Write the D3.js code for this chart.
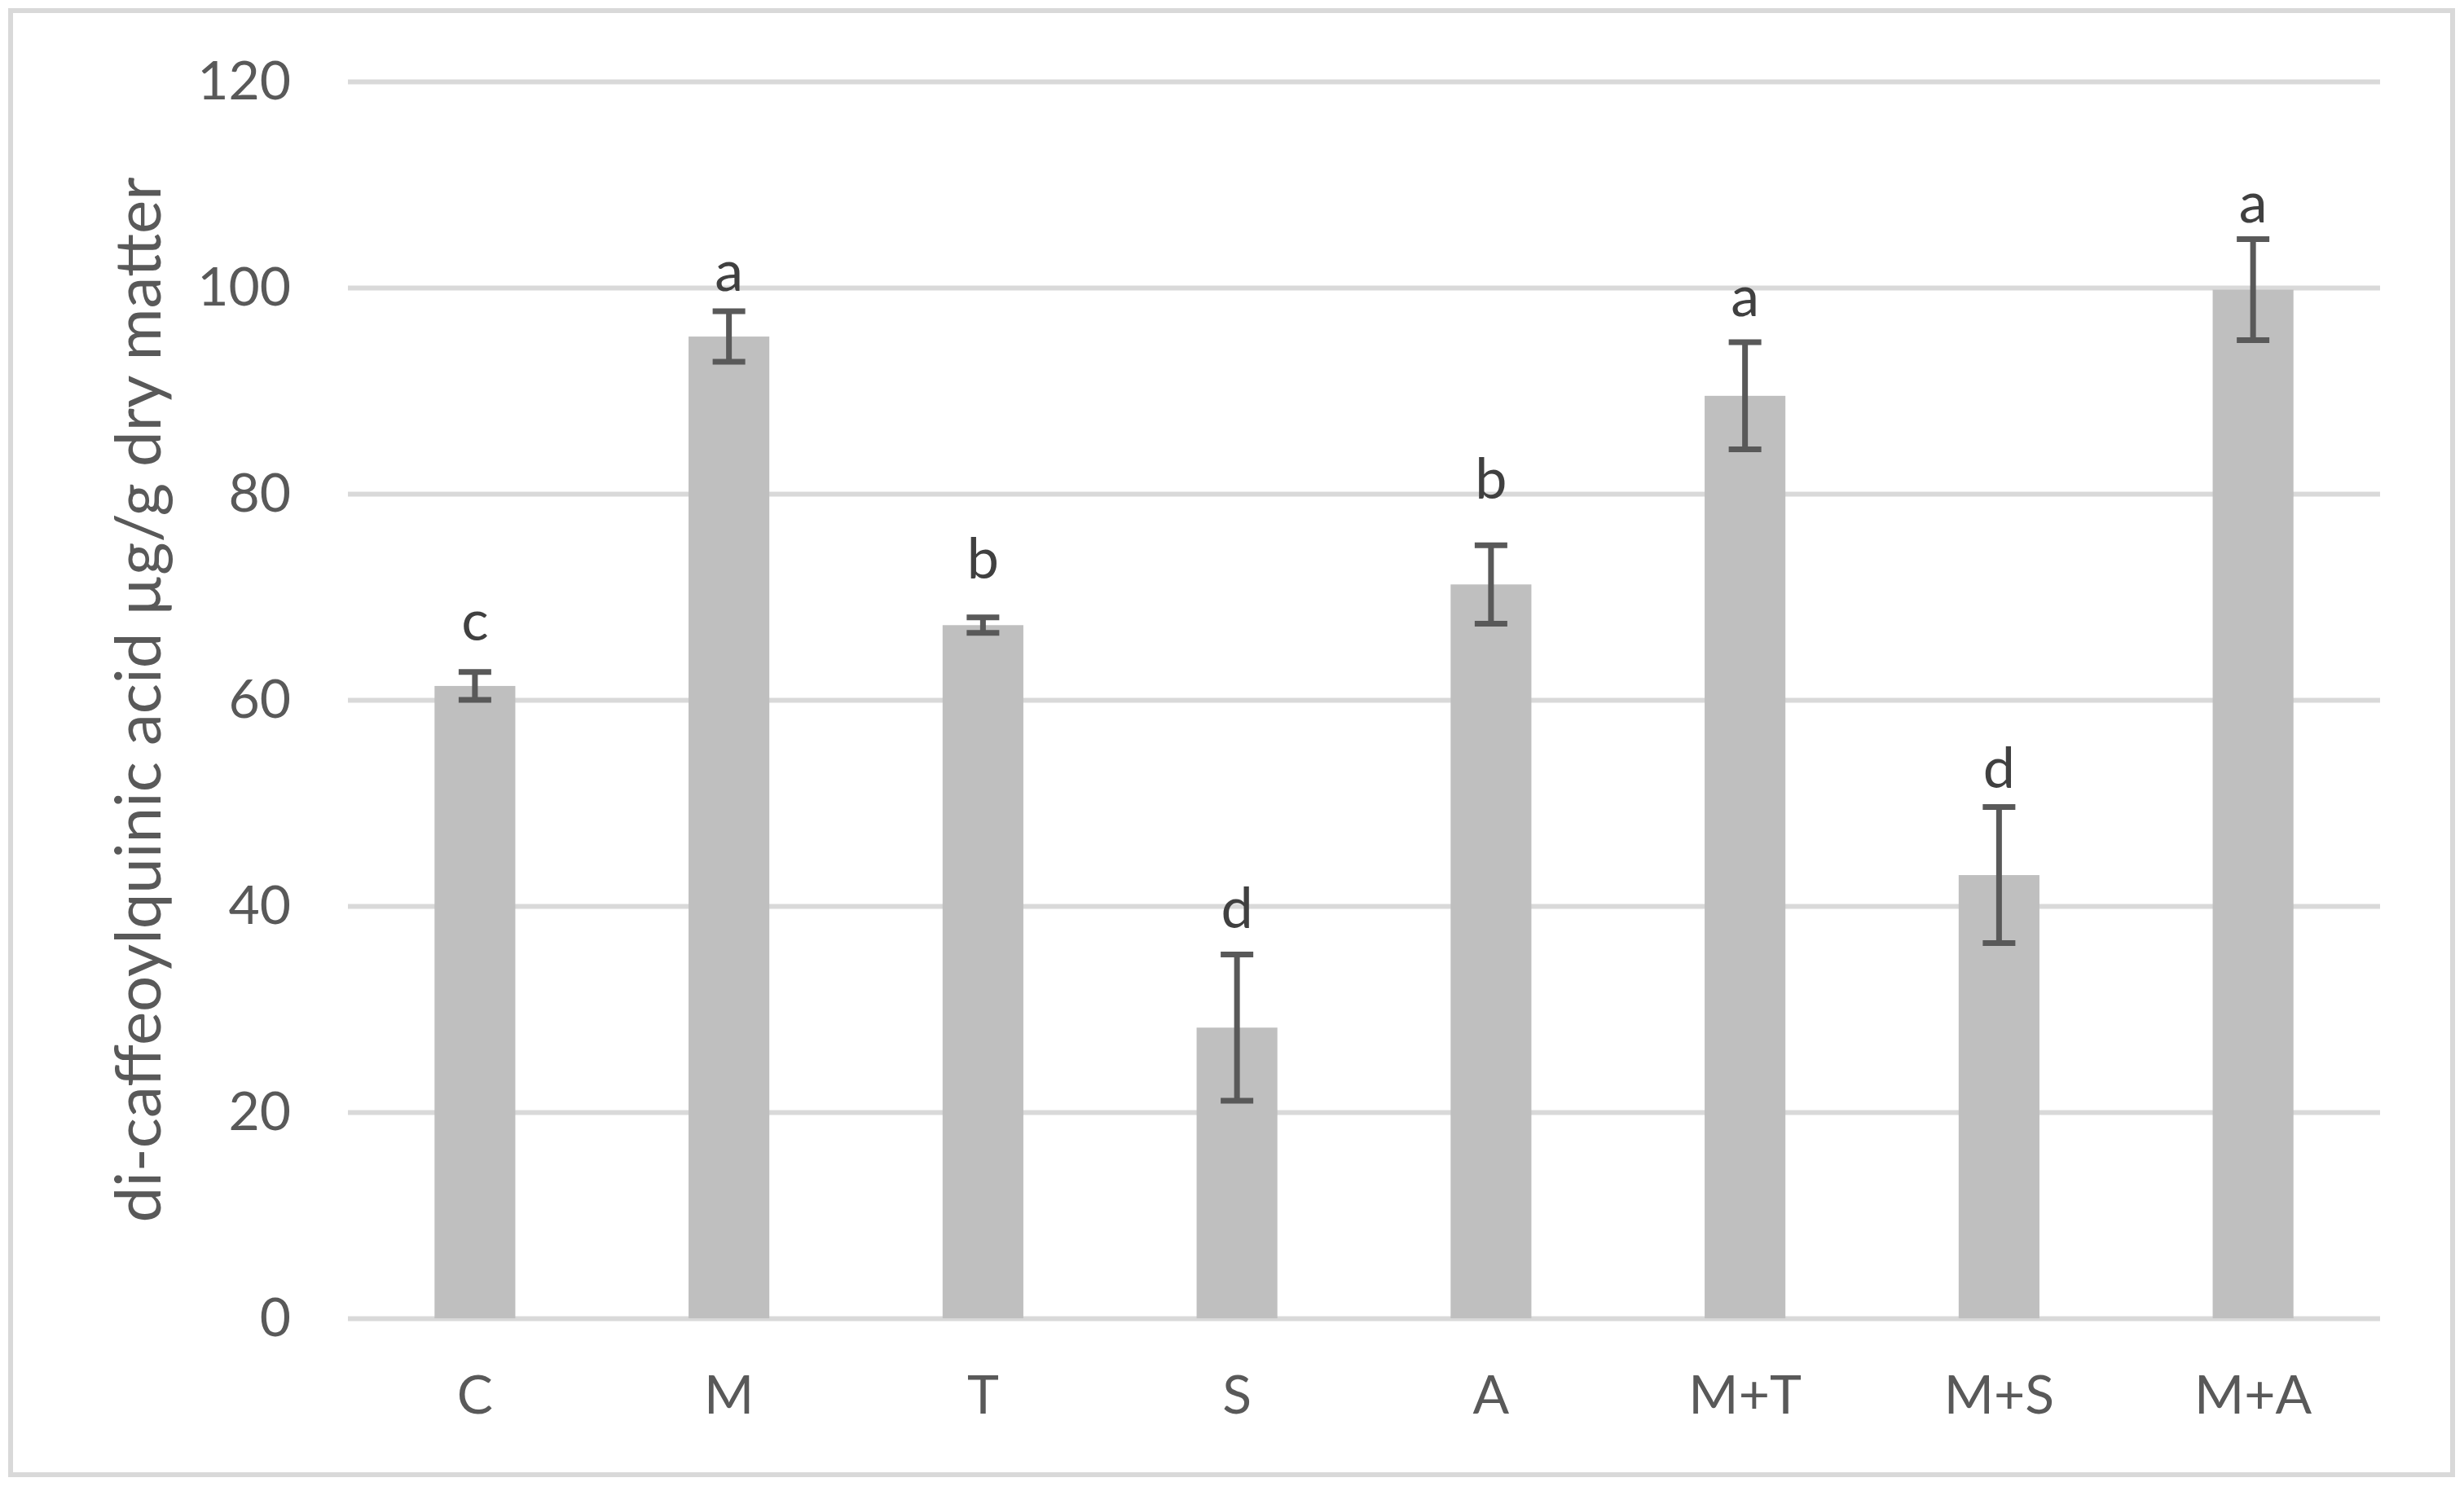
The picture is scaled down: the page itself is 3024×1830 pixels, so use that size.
<!DOCTYPE html>
<html>
<head>
<meta charset="utf-8">
<script src="https://cdn.jsdelivr.net/npm/d3@7"></script>
<style>
    body { margin: 0; background: #ffffff; }
    text { font-family: Lato, "Open Sans", sans-serif; }
</style>
</head>
<body>
<div id="chart-area"></div>
<script>
// di-caffeoylquinic acid per treatment, bars with error bars and letters

let categories = ["C", "M", "T", "S", "A", "M+T", "M+S", "M+A"];
let means = [61.35, 95.25, 67.25, 28.2, 71.2, 89.5, 43.0, 99.8];
let errors = [1.35, 2.45, 0.75, 7.1, 3.8, 5.2, 6.6, 4.9];
let letters = ["c", "a", "b", "d", "b", "a", "d", "a"];
let letterAt = [65.8, 99.7, 71.8, 37.9, 79.5, 97.2, 51.5, 106.3];
let yTicks = [0, 20, 40, 60, 80, 100, 120];

class BarChart {

    constructor(parentElement) {
        this.parentElement = parentElement;
        this.initvis();
    }

    initvis() {
        let vis = this;

        vis.fullWidth = 3024;
        vis.fullHeight = 1830;
        vis.margin = {top: 100, right: 103, bottom: 212, left: 427};
        vis.width = vis.fullWidth - vis.margin.left - vis.margin.right;
        vis.height = vis.fullHeight - vis.margin.top - vis.margin.bottom;

        vis.root = d3.select("#" + vis.parentElement).append("svg")
            .attr("width", vis.fullWidth)
            .attr("height", vis.fullHeight);

        // outer frame
        vis.root.append("rect")
            .attr("x", 13)
            .attr("y", 13)
            .attr("width", 2997)
            .attr("height", 1797)
            .attr("fill", "#ffffff")
            .attr("stroke", "#d9d9d9")
            .attr("stroke-width", 6);

        vis.svg = vis.root.append("g")
            .attr("transform", "translate(" + vis.margin.left + "," + vis.margin.top + ")");

        vis.x = d3.scaleBand()
            .domain(categories)
            .range([0, vis.width])
            .paddingInner(0.682)
            .paddingOuter(0.341);

        vis.y = d3.scaleLinear()
            .domain([0, 120])
            .range([vis.height, 0]);

        vis.updatevis();
    }

    updatevis() {
        let vis = this;

        // gridlines + tick labels
        let yAxis = d3.axisLeft(vis.y)
            .tickValues(yTicks)
            .tickSize(-vis.width)
            .tickPadding(70);

        vis.svg.append("g")
            .attr("class", "y-axis")
            .call(yAxis)
            .call(g => g.select(".domain").remove())
            .call(g => g.selectAll(".tick line")
                .attr("stroke", "#d9d9d9")
                .attr("stroke-width", 6))
            .call(g => g.selectAll(".tick text")
                .attr("fill", "#595959")
                .attr("font-size", 66)
                .attr("font-family", "Lato, sans-serif"));

        // category labels
        let xAxis = d3.axisBottom(vis.x)
            .tickSize(0)
            .tickPadding(70);

        vis.svg.append("g")
            .attr("class", "x-axis")
            .attr("transform", "translate(0," + vis.height + ")")
            .call(xAxis)
            .call(g => g.select(".domain").remove())
            .call(g => g.selectAll(".tick text")
                .attr("fill", "#595959")
                .attr("font-size", 66)
                .attr("font-family", "Lato, sans-serif"));

        let rows = categories.map((c, i) => ({
            name: c, mean: means[i], err: errors[i], letter: letters[i], letterAt: letterAt[i]
        }));

        vis.svg.selectAll(".bar")
            .data(rows)
            .enter()
            .append("rect")
            .attr("class", "bar")
            .attr("x", d => vis.x(d.name))
            .attr("width", vis.x.bandwidth())
            .attr("y", d => vis.y(d.mean))
            .attr("height", d => vis.height - vis.y(d.mean))
            .attr("fill", "#bfbfbf");

        let capHalf = 20;
        let errGroups = vis.svg.selectAll(".err")
            .data(rows)
            .enter()
            .append("g")
            .attr("class", "err")
            .attr("stroke", "#595959")
            .attr("stroke-width", 7);

        errGroups.append("line")
            .attr("x1", d => vis.x(d.name) + vis.x.bandwidth() / 2)
            .attr("x2", d => vis.x(d.name) + vis.x.bandwidth() / 2)
            .attr("y1", d => vis.y(d.mean + d.err))
            .attr("y2", d => vis.y(d.mean - d.err));

        errGroups.append("line")
            .attr("x1", d => vis.x(d.name) + vis.x.bandwidth() / 2 - capHalf)
            .attr("x2", d => vis.x(d.name) + vis.x.bandwidth() / 2 + capHalf)
            .attr("y1", d => vis.y(d.mean + d.err))
            .attr("y2", d => vis.y(d.mean + d.err));

        errGroups.append("line")
            .attr("x1", d => vis.x(d.name) + vis.x.bandwidth() / 2 - capHalf)
            .attr("x2", d => vis.x(d.name) + vis.x.bandwidth() / 2 + capHalf)
            .attr("y1", d => vis.y(d.mean - d.err))
            .attr("y2", d => vis.y(d.mean - d.err));

        // significance letters
        vis.svg.selectAll(".letter")
            .data(rows)
            .enter()
            .append("text")
            .attr("class", "letter")
            .attr("x", d => vis.x(d.name) + vis.x.bandwidth() / 2)
            .attr("y", d => vis.y(d.letterAt))
            .attr("text-anchor", "middle")
            .attr("fill", "#404040")
            .attr("font-size", 70)
            .text(d => d.letter);

        // y axis title
        vis.root.append("text")
            .attr("id", "y-axis-title")
            .attr("transform", "translate(197," + (vis.margin.top + vis.height / 2) + ") rotate(-90)")
            .attr("text-anchor", "middle")
            .attr("fill", "#595959")
            .attr("font-size", 78)
            .text("di-caffeoylquinic acid µg/g dry matter");
    }
}

let chart = new BarChart("chart-area");
</script>
</body>
</html>
